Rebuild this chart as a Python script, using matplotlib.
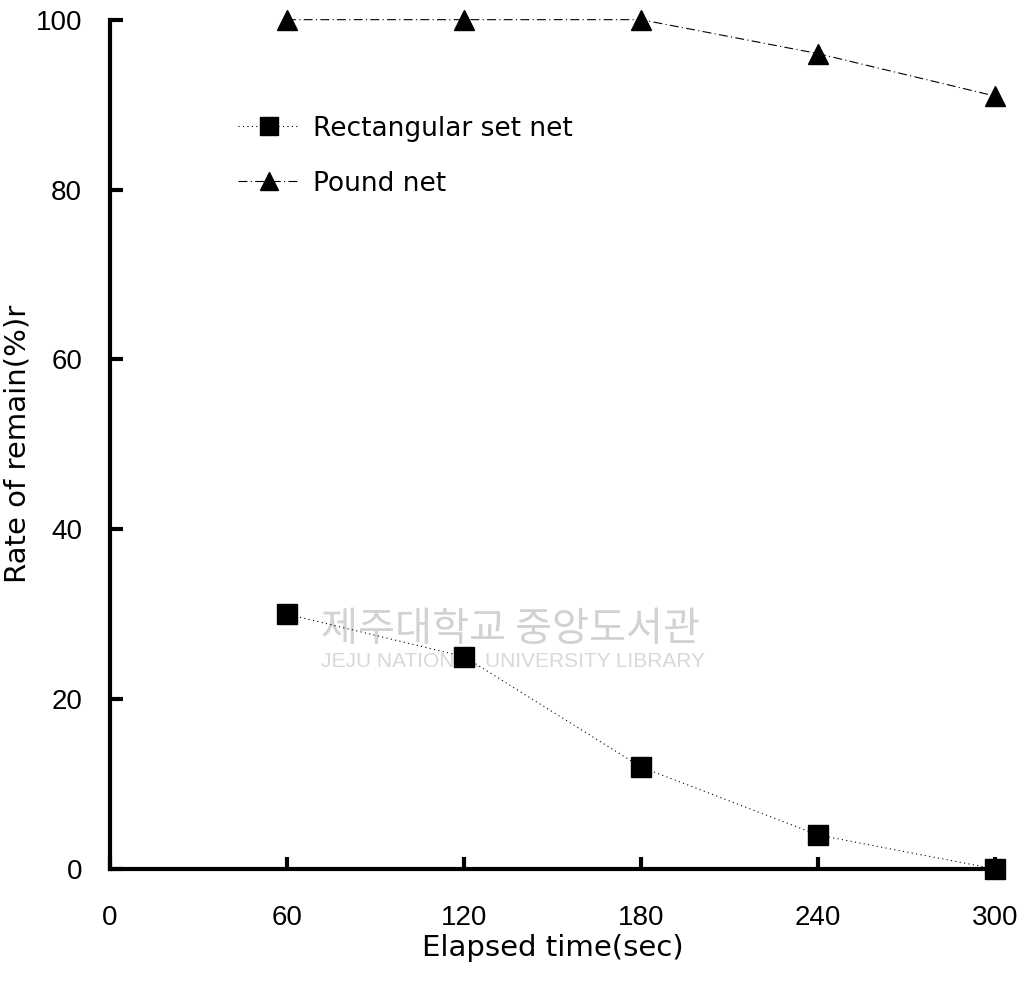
#!/usr/bin/env python3

from matplotlib import pyplot as plt

plt.rcParams['font.family'] = ['Liberation Sans', 'Noto Sans CJK KR', 'DejaVu Sans']

elapsed = [60, 120, 180, 240, 300]
rectangular = [30, 25, 12, 4, 0]
pound = [100, 100, 100, 96, 91]

x_ticks = [0, 60, 120, 180, 240, 300]
y_ticks = [0, 20, 40, 60, 80, 100]

fig = plt.figure(figsize=(10.34, 9.83), dpi=100)
ax = fig.add_axes([0.1064, 0.116, 0.856, 0.864])

# watermark of the scanned thesis
ax.text(0.238, 0.268, '제주대학교 중앙도서관', transform=ax.transAxes, fontsize=29,
        color='#d2d2d2', family=['Noto Sans CJK KR'], zorder=0)
ax.text(0.238, 0.238, 'JEJU NATIONAL UNIVERSITY LIBRARY', transform=ax.transAxes,
        fontsize=15, color='#d8d8d8', zorder=0)

ax.plot(elapsed, rectangular, color='black', linestyle=(0, (1, 3)), linewidth=0.8,
        marker='s', markersize=14, label='Rectangular set net', zorder=3, clip_on=False)
ax.plot(elapsed, pound, color='black', linestyle=(0, (8, 3, 1, 3)), linewidth=0.8,
        marker='^', markersize=15, label='Pound net', zorder=3, clip_on=False)

ax.set_xlim(0, 300)
ax.set_ylim(0, 100)
ax.set_xticks(x_ticks)
ax.set_yticks(y_ticks)
ax.tick_params(axis='both', direction='in', length=9, width=3, labelsize=20)
ax.tick_params(axis='x', pad=26)
ax.tick_params(axis='y', pad=20)

for s in ['top', 'right']:
    ax.spines[s].set_visible(False)
for s in ['left', 'bottom']:
    ax.spines[s].set_linewidth(3)

ax.set_xlabel('Elapsed time(sec)', fontsize=21, family=['DejaVu Sans'], labelpad=2)
ax.set_ylabel('Rate of remain(%)r', fontsize=21, family=['DejaVu Sans'], labelpad=3)

ax.legend(loc='upper left', bbox_to_anchor=(0.118, 0.915), frameon=False,
          prop={'family': 'DejaVu Sans', 'size': 19}, markerscale=0.9,
          handlelength=2.3, handletextpad=0.55, labelspacing=1.1)

fig.savefig('out.png', dpi=100)
